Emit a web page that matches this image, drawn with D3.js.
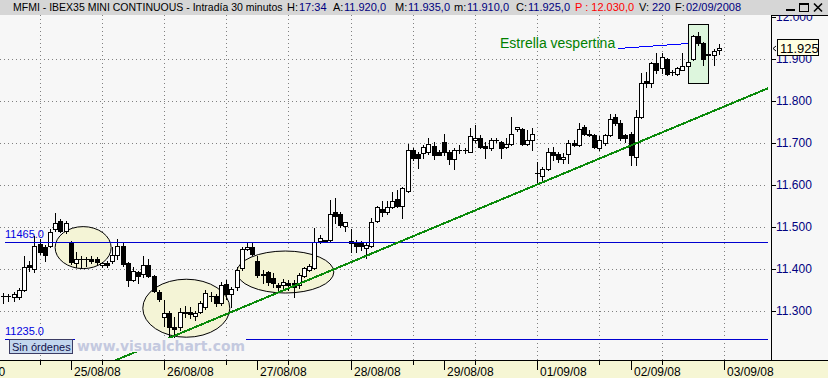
<!DOCTYPE html>
<html>
<head>
<meta charset="utf-8">
<script src="https://cdn.jsdelivr.net/npm/d3@7"></script>
<style>
  html, body { margin: 0; padding: 0; background: #f7f7f7; }
  svg { display: block; font-family: "Liberation Sans", Arial, sans-serif; }
</style>
</head>
<body>
<div class="chart"></div>
<script>
// 30 minute bars, MFMI, 22/08/08 (partial) to 02/09/08
const opens = [
  11337, 11336, 11333, 11333, 11351, 11410, 11400, 11459, 11452, 11455, 11495, 11515, 11490,
  11465, 11414, 11424, 11423, 11425, 11424, 11410, 11414, 11420, 11433, 11455, 11414, 11375, 11392, 11388, 11410, 11384, 11345,
  11286, 11296, 11262, 11262, 11299, 11298, 11288, 11299, 11311, 11335, 11336, 11320, 11365, 11340, 11358, 11402, 11447, 11452,
  11419, 11388, 11392, 11379, 11362, 11362, 11366, 11367, 11362, 11384, 11398, 11402, 11467, 11467, 11469, 11536, 11532, 11502,
  11466, 11462, 11462, 11451, 11456, 11515, 11543, 11536, 11548, 11566, 11551, 11586, 11683, 11673, 11675, 11677, 11693, 11679,
  11703, 11679, 11661, 11683, 11682, 11679, 11707, 11712, 11693, 11687, 11706, 11703, 11691, 11696, 11732, 11733, 11696, 11707,
  11628, 11620, 11637, 11677, 11673, 11661, 11673, 11700, 11695, 11737, 11722, 11719, 11687, 11699, 11719, 11762, 11746, 11719,
  11722, 11667, 11762, 11847, 11841, 11889, 11877, 11898, 11869, 11864, 11873, 11882, 11898, 11954, 11936, 11909, 11909, 11920
];
const highs = [
  11343, 11341, 11346, 11356, 11430, 11420, 11478, 11471, 11457, 11495, 11533, 11519, 11515,
  11467, 11440, 11432, 11428, 11432, 11428, 11418, 11420, 11452, 11471, 11462, 11418, 11404, 11396, 11432, 11424, 11386, 11351,
  11327, 11300, 11285, 11308, 11312, 11310, 11300, 11325, 11350, 11345, 11340, 11370, 11375, 11358, 11405, 11452, 11463, 11463,
  11430, 11398, 11396, 11390, 11368, 11376, 11375, 11375, 11390, 11405, 11412, 11497, 11482, 11470, 11564, 11568, 11536, 11513,
  11495, 11469, 11466, 11465, 11521, 11549, 11562, 11562, 11584, 11588, 11596, 11696, 11688, 11679, 11695, 11712, 11703, 11683,
  11722, 11683, 11688, 11695, 11687, 11734, 11742, 11719, 11703, 11711, 11711, 11705, 11712, 11762, 11738, 11734, 11730, 11734,
  11655, 11643, 11687, 11691, 11677, 11675, 11707, 11707, 11746, 11742, 11730, 11722, 11715, 11722, 11768, 11768, 11754, 11722,
  11725, 11778, 11865, 11869, 11893, 11913, 11913, 11901, 11873, 11881, 11913, 11916, 11956, 11964, 11940, 11913, 11922, 11935
];
const lows = [
  11320, 11325, 11325, 11330, 11347, 11396, 11392, 11436, 11420, 11452, 11491, 11489, 11486,
  11412, 11404, 11404, 11408, 11414, 11412, 11406, 11406, 11414, 11424, 11408, 11360, 11372, 11367, 11380, 11382, 11345, 11325,
  11265, 11240, 11238, 11255, 11285, 11283, 11280, 11295, 11305, 11325, 11312, 11315, 11330, 11310, 11350, 11398, 11445, 11433,
  11381, 11368, 11362, 11358, 11345, 11350, 11350, 11333, 11355, 11380, 11395, 11400, 11462, 11464, 11467, 11510, 11500, 11490,
  11440, 11441, 11445, 11426, 11453, 11513, 11527, 11532, 11544, 11548, 11521, 11584, 11659, 11641, 11663, 11673, 11661, 11670,
  11671, 11649, 11638, 11675, 11676, 11677, 11703, 11687, 11665, 11683, 11703, 11665, 11687, 11694, 11729, 11694, 11694, 11683,
  11604, 11612, 11635, 11659, 11655, 11651, 11651, 11693, 11692, 11719, 11715, 11687, 11683, 11695, 11715, 11742, 11707, 11703,
  11647, 11647, 11758, 11833, 11833, 11865, 11865, 11861, 11861, 11861, 11873, 11881, 11897, 11932, 11885, 11905, 11885, 11910
];
const closes = [
  11337, 11335, 11341, 11351, 11406, 11406, 11455, 11440, 11433, 11489, 11509, 11491, 11509,
  11416, 11424, 11425, 11424, 11420, 11418, 11414, 11410, 11433, 11455, 11412, 11375, 11396, 11383, 11410, 11384, 11349, 11329,
  11295, 11262, 11258, 11299, 11296, 11294, 11295, 11319, 11343, 11336, 11320, 11362, 11340, 11352, 11398, 11447, 11452, 11435,
  11386, 11386, 11370, 11367, 11357, 11370, 11362, 11358, 11386, 11402, 11407, 11465, 11475, 11468, 11532, 11525, 11505, 11511,
  11461, 11456, 11455, 11457, 11513, 11547, 11536, 11548, 11562, 11551, 11592, 11683, 11665, 11665, 11691, 11696, 11672, 11672,
  11677, 11661, 11683, 11683, 11683, 11717, 11712, 11691, 11687, 11707, 11707, 11687, 11696, 11722, 11737, 11696, 11707, 11722,
  11628, 11637, 11677, 11671, 11661, 11667, 11700, 11695, 11732, 11722, 11719, 11691, 11707, 11719, 11757, 11746, 11711, 11711,
  11671, 11762, 11841, 11841, 11890, 11873, 11903, 11863, 11869, 11877, 11882, 11891, 11954, 11936, 11898, 11910, 11918, 11925
];

// x axis: first bar of each session
const dayLabels = ["25/08/08", "26/08/08", "27/08/08", "28/08/08", "29/08/08", "01/09/08", "02/09/08", "03/09/08"];
const dayStarts = [13, 31, 49, 67, 85, 103, 121, 139];
const gridBars = [7, 19, 31, 43, 55, 67, 79, 91, 103, 115, 127, 139];

// price axis
const priceTicks = [11300, 11400, 11500, 11600, 11700, 11800, 11900, 12000];
const levels = [11465, 11235];
const lastPrice = 11925;

// drawings on the chart
const trendBars = [32.7, 147.6];
const trendValues = [11240, 11830];
const ellipseBars = [15.4, 35.3, 54.4];
const ellipseValues = [11451, 11307, 11393];
const ellipseRx = [28, 43.5, 48.5];
const ellipseRy = [21, 29, 21];
const starBars = [133, 135];
const starRange = [11841, 11982];

// header pieces
const title = [
  { t: "MFMI - IBEX35 MINI CONTINUOUS - Intradía 30 minutos", c: "#000", x: 13, s: 10.5 },
  { t: "H:", c: "#000", x: 287 }, { t: "17:34", c: "#000080", x: 299 },
  { t: "A:", c: "#000", x: 333 }, { t: "11.920,0", c: "#000080", x: 344 },
  { t: "M:", c: "#000", x: 395 }, { t: "11.935,0", c: "#000080", x: 408 },
  { t: "m:", c: "#000", x: 454 }, { t: "11.910,0", c: "#000080", x: 467 },
  { t: "C:", c: "#000", x: 516 }, { t: "11.925,0", c: "#000080", x: 528 },
  { t: "P : 12.030,0", c: "#ff0000", x: 575 },
  { t: "V:", c: "#000", x: 639 }, { t: "220", c: "#000080", x: 652 },
  { t: "F:", c: "#000", x: 675 }, { t: "02/09/2008", c: "#000080", x: 686 }
];

const width = 828, height = 378;
const plotRight = 768, plotTop = 15, plotBottom = 360, axisX = 771.5;

const svg = d3.select(".chart").append("svg")
  .attr("width", width).attr("height", height);

svg.append("rect").attr("width", width).attr("height", height).attr("fill", "#f7f7f7");

const x = d3.scaleLinear().domain([0, 138]).range([3.3, 718.7]);
const y = d3.scaleLinear().domain([11184, 12003.6]).range([plotBottom, plotTop]);

svg.append("defs").append("clipPath").attr("id", "plotclip")
  .append("rect").attr("x", 0).attr("y", plotTop).attr("width", plotRight).attr("height", plotBottom - plotTop);

const g = svg.append("g").attr("clip-path", "url(#plotclip)");

// dotted grid
g.append("g").selectAll("line").data(priceTicks.filter(v => v < 12000)).join("line")
  .attr("x1", 0).attr("x2", plotRight)
  .attr("y1", d => Math.round(y(d)) + 0.5).attr("y2", d => Math.round(y(d)) + 0.5)
  .attr("stroke", "#808080").attr("stroke-dasharray", "1,3");
g.append("g").selectAll("line").data(gridBars).join("line")
  .attr("x1", d => Math.round(x(d)) + 0.5).attr("x2", d => Math.round(x(d)) + 0.5)
  .attr("y1", plotTop).attr("y2", plotBottom)
  .attr("stroke", "#808080").attr("stroke-dasharray", "1,3");

// evening star box
g.append("rect")
  .attr("x", Math.round(x(starBars[0] - 1)) + 0.5)
  .attr("y", Math.round(y(starRange[1])) + 0.5)
  .attr("width", Math.round(x(starBars[1] + 1)) - Math.round(x(starBars[0] - 1)))
  .attr("height", Math.round(y(starRange[0])) - Math.round(y(starRange[1])))
  .attr("fill", "#ddf6dd").attr("stroke", "#000");

// ellipses
g.append("g").selectAll("ellipse").data(ellipseBars).join("ellipse")
  .attr("cx", (d, i) => x(d)).attr("cy", (d, i) => y(ellipseValues[i]))
  .attr("rx", (d, i) => ellipseRx[i]).attr("ry", (d, i) => ellipseRy[i])
  .attr("fill", "#f4f4d6").attr("stroke", "#000").attr("stroke-width", 1);

// candles
const bars = opens.map((o, i) => ({ i, o, h: highs[i], l: lows[i], c: closes[i] }));
const px = d => Math.round(x(d.i));
const cg = g.append("g").attr("shape-rendering", "crispEdges");
cg.selectAll("line").data(bars).join("line")
  .attr("x1", d => px(d) + 0.5).attr("x2", d => px(d) + 0.5)
  .attr("y1", d => Math.round(y(d.h))).attr("y2", d => Math.round(y(d.l)) + 1)
  .attr("stroke", "#000");
cg.selectAll("rect").data(bars).join("rect")
  .each(function(d) {
    const top = Math.round(y(Math.max(d.o, d.c)));
    const bot = Math.round(y(Math.min(d.o, d.c)));
    const sel = d3.select(this);
    if (d.c > d.o && bot - top >= 2) {
      sel.attr("x", px(d) - 1.5).attr("y", top + 0.5).attr("width", 4).attr("height", bot - top)
        .attr("fill", "#fff").attr("stroke", "#000");
    } else {
      sel.attr("x", px(d) - 2).attr("y", top).attr("width", 5).attr("height", Math.max(1, bot - top + 1))
        .attr("fill", "#000");
    }
  });

// horizontal levels
g.append("g").selectAll("line").data(levels).join("line")
  .attr("x1", 5).attr("x2", plotRight)
  .attr("y1", d => Math.round(y(d)) + 0.5).attr("y2", d => Math.round(y(d)) + 0.5)
  .attr("stroke", "#0000d0");
svg.append("g").selectAll("text").data(levels).join("text")
  .attr("x", 5).attr("y", d => Math.round(y(d)) - 4)
  .attr("font-size", 11).attr("fill", "#0000e0")
  .text(d => d.toFixed(1));

// trend line, extended to the plot edges
const slope = (trendValues[1] - trendValues[0]) / (trendBars[1] - trendBars[0]);
const tA = -10, tB = 160;
g.append("line")
  .attr("x1", x(tA)).attr("y1", y(trendValues[0] + slope * (tA - trendBars[0])))
  .attr("x2", x(tB)).attr("y2", y(trendValues[0] + slope * (tB - trendBars[0])))
  .attr("stroke", "#0a8a0a").attr("stroke-width", 2).attr("shape-rendering", "crispEdges");

// watermark and order box
svg.append("rect").attr("x", 75).attr("y", 338).attr("width", 171).attr("height", 14).attr("fill", "#f7f7f7");
svg.append("text").attr("x", 77).attr("y", 351)
  .attr("font-family", "'DejaVu Sans', Verdana, sans-serif").attr("font-weight", "bold")
  .attr("font-size", 14).attr("fill", "#c4c9df")
  .attr("textLength", 168).attr("lengthAdjust", "spacingAndGlyphs")
  .text("www.visualchart.com");
svg.append("rect").attr("x", 9.5).attr("y", 339.5).attr("width", 63).attr("height", 14)
  .attr("fill", "#c2d6ee").attr("stroke", "#3c3c64");
svg.append("text").attr("x", 12).attr("y", 350.5).attr("font-size", 11).attr("fill", "#10104a")
  .text("Sin órdenes");

// annotation label
const starText = svg.append("text").attr("x", 500).attr("y", 48)
  .attr("font-size", 14).attr("fill", "#008000").text("Estrella vespertina");
const textEnd = 500 + starText.node().getComputedTextLength();
svg.append("line")
  .attr("x1", textEnd + 3).attr("y1", Math.round(y(11926)) + 0.5)
  .attr("x2", Math.round(x(starBars[0] - 1))).attr("y2", Math.round(y(11936)) + 0.5)
  .attr("stroke", "#0000ff").attr("shape-rendering", "crispEdges");

// right price axis
const ra = svg.append("g").attr("shape-rendering", "crispEdges");
ra.append("line").attr("x1", axisX).attr("x2", axisX).attr("y1", plotTop).attr("y2", plotBottom).attr("stroke", "#000");
ra.append("line").attr("x1", axisX).attr("x2", width).attr("y1", plotTop + 0.5).attr("y2", plotTop + 0.5).attr("stroke", "#000");
ra.selectAll("line.tk").data(priceTicks).join("line").attr("class", "tk")
  .attr("x1", axisX).attr("x2", axisX + 4)
  .attr("y1", d => Math.round(y(d)) + 0.5).attr("y2", d => Math.round(y(d)) + 0.5)
  .attr("stroke", "#000");
svg.append("g").selectAll("text").data(priceTicks).join("text")
  .attr("x", 776).attr("y", d => y(d)).attr("dy", "0.36em")
  .attr("font-size", 12).attr("fill", "#000080")
  .text(d => (d / 1000).toFixed(3));

// last price marker (covers the top of the 11.900 label, as in the platform)
const ly = Math.round(y(lastPrice));
svg.append("path").attr("d", `M776,${ly - 2} L773,${ly + 0.5} L776,${ly + 3}`)
  .attr("fill", "none").attr("stroke", "#000");
svg.append("rect").attr("x", 777.5).attr("y", ly - 8.5).attr("width", 41).attr("height", 16)
  .attr("fill", "#ffffe1").attr("stroke", "#000").attr("shape-rendering", "crispEdges");
svg.append("text").attr("x", 780).attr("y", ly + 5).attr("font-size", 13).attr("fill", "#000")
  .text((lastPrice / 1000).toFixed(3));

// bottom date axis
const ba = svg.append("g").attr("shape-rendering", "crispEdges");
ba.append("rect").attr("x", 0).attr("y", plotBottom).attr("width", width).attr("height", height - plotBottom)
  .attr("fill", "#f6f6d4");
ba.append("line").attr("x1", 0).attr("x2", width).attr("y1", plotBottom + 0.5).attr("y2", plotBottom + 0.5).attr("stroke", "#000");
ba.selectAll("line.g").data(gridBars).join("line").attr("class", "g")
  .attr("x1", d => Math.round(x(d)) + 0.5).attr("x2", d => Math.round(x(d)) + 0.5)
  .attr("y1", plotBottom).attr("y2", plotBottom + 5).attr("stroke", "#000");
ba.selectAll("line.d").data(dayStarts).join("line").attr("class", "d")
  .attr("x1", d => Math.round(x(d)) + 0.5).attr("x2", d => Math.round(x(d)) + 0.5)
  .attr("y1", plotBottom).attr("y2", plotBottom + 10).attr("stroke", "#000");
svg.append("g").selectAll("text").data(dayStarts).join("text")
  .attr("x", d => Math.round(x(d)) + 3).attr("y", 376)
  .attr("font-size", 12).attr("fill", "#000")
  .text((d, i) => dayLabels[i]);
svg.append("text").attr("x", -1.5).attr("y", 376).attr("font-size", 12).text("0");

// title bar
svg.append("rect").attr("width", width).attr("height", plotTop).attr("fill", "#d6d6d6");
svg.append("g").selectAll("text").data(title).join("text")
  .attr("x", d => d.x).attr("y", 11).attr("font-size", d => d.s || 11).attr("fill", d => d.c)
  .text(d => d.t);

// window buttons
const wb = svg.append("g").attr("shape-rendering", "crispEdges");
wb.append("rect").attr("x", 786).attr("y", 9).attr("width", 9).attr("height", 2).attr("fill", "#000");
wb.append("rect").attr("x", 799.5).attr("y", 3.5).attr("width", 9).attr("height", 8).attr("fill", "none").attr("stroke", "#000");
wb.append("rect").attr("x", 799).attr("y", 3).attr("width", 10).attr("height", 2).attr("fill", "#000");
wb.append("path").attr("d", "M814,3.5 L822,11.5 M822,3.5 L814,11.5").attr("stroke", "#000").attr("stroke-width", 1.6)
  .attr("shape-rendering", "auto");
</script>
</body>
</html>
